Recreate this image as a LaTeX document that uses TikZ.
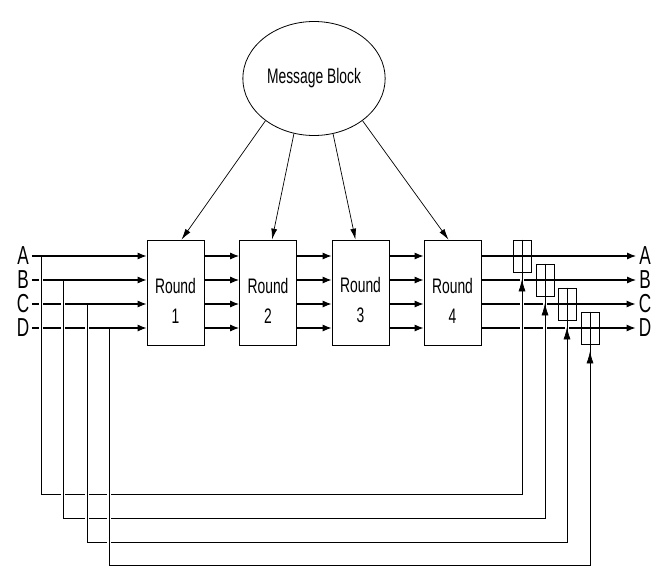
\documentclass[tikz,border=0pt]{standalone}
\usepackage{fontspec}
\setmainfont[FakeStretch=0.66]{Liberation Sans}
\usetikzlibrary{positioning,shapes.geometric,arrows.meta,calc}

\begin{document}
\begin{tikzpicture}[x=1pt, y=-1pt,
    roundbox/.style={draw, line width=0.7pt, minimum width=57pt, minimum height=105pt, inner sep=0pt, align=center, font=\fontsize{21}{30}\selectfont},
    addbox/.style={draw, line width=0.7pt, minimum width=18pt, minimum height=32pt, inner sep=0pt},
    lab/.style={inner sep=3pt, font=\fontsize{26}{26}\selectfont},
    bus/.style={line width=1.1pt, arrows={-Latex[length=9pt, width=7pt]}},
    feed/.style={line width=0.6pt, preaction={draw=white, line width=4pt, shorten <=2pt, shorten >=2pt}},
    feedtip/.style={line width=0.6pt, arrows={-Latex[length=12pt, width=7pt]}},
    msgarrow/.style={line width=0.7pt, arrows={-Latex[length=11pt, width=6pt]}}]
    \useasboundingbox (0,0) rectangle (656,587);
    \node[ellipse, draw, line width=0.8pt, minimum width=126pt, minimum height=114pt, font=\fontsize{21}{21}\selectfont] (msg) at (314,78.5) {Message Block};
    \foreach \x [count=\i] in {175.5, 268, 360.5, 452.5} {
        \node[roundbox] (r\i) at (\x,292.5) {\rule{0pt}{31pt}Round\\\i};
    }
    \foreach \i/\a/\s in {1/221/6, 2/250/4, 3/289/-5, 4/319/-4} {
        \draw[msgarrow] (msg.\a) -- ([xshift=\s pt]r\i.north);
    }
    \foreach \l/\y/\jx/\ax/\by in {A/256/41/522/494, B/280/63/545/518, C/304/87/567/542, D/328/109/590/565} {
        \node[lab] (i\l) at (23,\y) {\l};
        \node[lab] (o\l) at (645,\y) {\l};
        \node[addbox] (x\l) at (\ax,\y) {};
        \coordinate (j\l) at (\jx,\y);
        \coordinate (b\l) at (\jx,\by);
        \draw[line width=0.7pt] (x\l.north) -- (x\l.south);
        \draw[bus] (i\l) -- (r1.west |- i\l);
        \foreach \i [evaluate=\i as \n using int(\i+1)] in {1,2,3} {
            \draw[bus] (r\i.east |- i\l) -- (r\n.west |- i\l);
        }
        \draw[bus] (r4.east |- i\l) -- (o\l);
    }
    \foreach \l in {A,B,C,D} {
        \draw[feed] (j\l) -- (b\l) -- (x\l |- b\l) -- (x\l.south);
        \draw[feedtip] (x\l |- b\l) -- ([yshift=-7pt]x\l.south);
    }
\end{tikzpicture}
\end{document}
